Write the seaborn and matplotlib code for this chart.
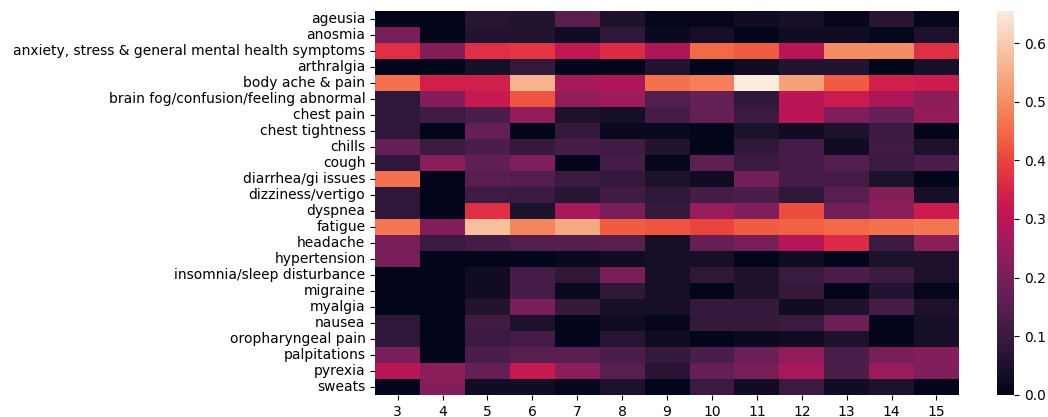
import numpy as np
import pandas as pd
import matplotlib
matplotlib.use("Agg")
import matplotlib.pyplot as plt
import seaborn as sns

symptoms = [
    "ageusia", "anosmia", "anxiety, stress & general mental health symptoms",
    "arthralgia", "body ache & pain", "brain fog/confusion/feeling abnormal",
    "chest pain", "chest tightness", "chills", "cough", "diarrhea/gi issues",
    "dizziness/vertigo", "dyspnea", "fatigue", "headache", "hypertension",
    "insomnia/sleep disturbance", "migraine", "myalgia", "nausea",
    "oropharyngeal pain", "palpitations", "pyrexia", "sweats",
]
clusters = [3, 4, 5, 6, 7, 8, 9, 10, 11, 12, 13, 14, 15]

ageusia      = [0.00, 0.00, 0.07, 0.06, 0.15, 0.05, 0.01, 0.01, 0.03, 0.04, 0.01, 0.07, 0.01]
anosmia      = [0.20, 0.00, 0.06, 0.06, 0.03, 0.08, 0.02, 0.04, 0.00, 0.03, 0.03, 0.01, 0.05]
anxiety      = [0.37, 0.22, 0.37, 0.38, 0.31, 0.36, 0.28, 0.45, 0.43, 0.30, 0.50, 0.50, 0.37]
arthralgia   = [0.00, 0.00, 0.04, 0.09, 0.00, 0.00, 0.06, 0.00, 0.03, 0.06, 0.06, 0.00, 0.04]
body_ache    = [0.46, 0.34, 0.34, 0.56, 0.27, 0.28, 0.46, 0.48, 0.655, 0.53, 0.43, 0.34, 0.33]
brain_fog    = [0.08, 0.22, 0.32, 0.42, 0.24, 0.26, 0.14, 0.17, 0.08, 0.30, 0.33, 0.28, 0.23]
chest_pain   = [0.08, 0.11, 0.13, 0.24, 0.05, 0.04, 0.12, 0.17, 0.10, 0.30, 0.21, 0.17, 0.24]
chest_tight  = [0.08, 0.00, 0.17, 0.00, 0.09, 0.02, 0.02, 0.00, 0.05, 0.03, 0.05, 0.10, 0.00]
chills       = [0.17, 0.10, 0.13, 0.09, 0.12, 0.11, 0.06, 0.00, 0.08, 0.12, 0.03, 0.11, 0.05]
cough        = [0.08, 0.23, 0.16, 0.21, 0.00, 0.12, 0.01, 0.16, 0.10, 0.12, 0.14, 0.10, 0.13]
diarrhea     = [0.46, 0.00, 0.15, 0.14, 0.10, 0.09, 0.05, 0.03, 0.19, 0.12, 0.12, 0.05, 0.00]
dizziness    = [0.08, 0.00, 0.11, 0.10, 0.07, 0.11, 0.08, 0.12, 0.13, 0.08, 0.15, 0.22, 0.04]
dyspnea      = [0.08, 0.00, 0.37, 0.05, 0.27, 0.20, 0.09, 0.25, 0.21, 0.41, 0.19, 0.23, 0.33]
fatigue      = [0.47, 0.22, 0.58, 0.49, 0.54, 0.43, 0.42, 0.40, 0.43, 0.44, 0.45, 0.46, 0.47]
headache     = [0.20, 0.10, 0.12, 0.14, 0.14, 0.15, 0.04, 0.17, 0.20, 0.29, 0.36, 0.10, 0.23]
hypertension = [0.20, 0.00, 0.00, 0.00, 0.02, 0.03, 0.04, 0.04, 0.00, 0.03, 0.00, 0.05, 0.05]
insomnia     = [0.00, 0.00, 0.03, 0.12, 0.08, 0.20, 0.04, 0.08, 0.05, 0.10, 0.13, 0.10, 0.05]
migraine     = [0.00, 0.00, 0.03, 0.12, 0.02, 0.08, 0.04, 0.00, 0.05, 0.09, 0.00, 0.06, 0.01]
myalgia      = [0.00, 0.00, 0.06, 0.20, 0.09, 0.04, 0.04, 0.09, 0.09, 0.03, 0.05, 0.12, 0.05]
nausea       = [0.08, 0.00, 0.11, 0.05, 0.00, 0.03, 0.01, 0.09, 0.09, 0.10, 0.18, 0.00, 0.04]
oropharynx   = [0.08, 0.00, 0.10, 0.12, 0.00, 0.07, 0.03, 0.00, 0.02, 0.03, 0.05, 0.00, 0.04]
palpitations = [0.20, 0.00, 0.13, 0.15, 0.15, 0.13, 0.09, 0.13, 0.18, 0.24, 0.13, 0.20, 0.22]
pyrexia      = [0.30, 0.23, 0.17, 0.32, 0.23, 0.15, 0.07, 0.17, 0.20, 0.27, 0.13, 0.25, 0.21]
sweats       = [0.00, 0.22, 0.03, 0.03, 0.01, 0.05, 0.00, 0.10, 0.03, 0.10, 0.03, 0.05, 0.00]

rows = [ageusia, anosmia, anxiety, arthralgia, body_ache, brain_fog, chest_pain,
        chest_tight, chills, cough, diarrhea, dizziness, dyspnea, fatigue,
        headache, hypertension, insomnia, migraine, myalgia, nausea,
        oropharynx, palpitations, pyrexia, sweats]

df = pd.DataFrame(rows, index=symptoms, columns=clusters)

fig = plt.figure(figsize=(10.48, 4.17), dpi=100)
ax = fig.add_axes([0.358, 0.053, 0.557, 0.921])
cax = fig.add_axes([0.951, 0.053, 0.017, 0.921])

sns.heatmap(df, ax=ax, cbar_ax=cax)

plt.savefig("out.png", dpi=100)
